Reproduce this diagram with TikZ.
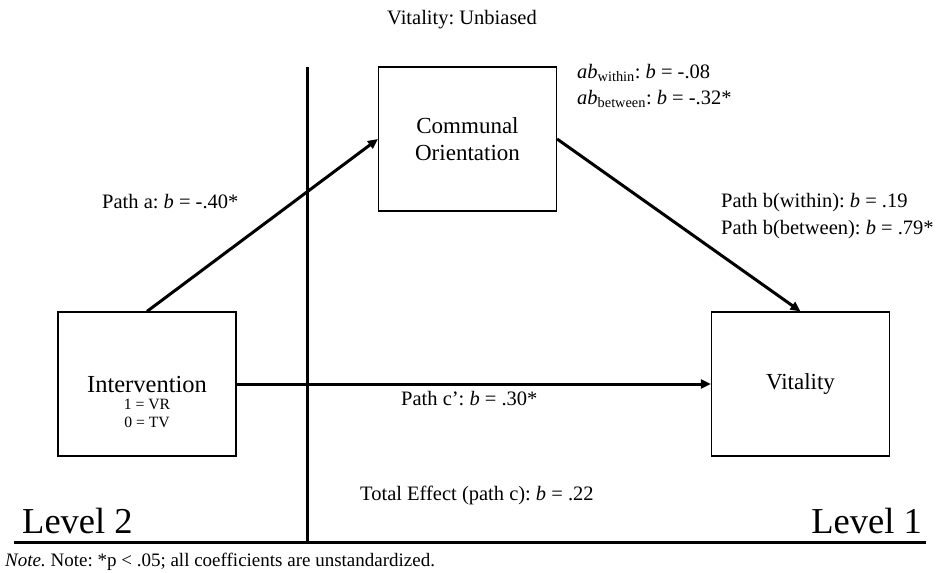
\documentclass[tikz,border=0pt]{standalone}
\usepackage{fontspec}
\setmainfont{Liberation Serif}
\usetikzlibrary{arrows.meta}
\frenchspacing
\tikzset{
  box/.style={draw, line width=1.2pt, minimum width=178pt, minimum height=144pt, inner sep=0pt, align=center, font=\fontsize{23}{27}\selectfont},
  lbl/.style={anchor=base west, inner sep=0pt, font=\fontsize{20.5}{24}\selectfont},
  conn/.style={line width=3pt, -{Triangle[length=10pt,width=9pt]}},
  rule/.style={line width=3pt},
  lvl/.style={inner sep=0pt, font=\fontsize{36.5}{40}\selectfont}
}
\begin{document}
\begin{tikzpicture}[x=1pt,y=-1pt]
\useasboundingbox (0,0) rectangle (938,573);
% rules
\coordinate (vt) at (307,67);
\coordinate (vb) at (307,542);
\coordinate (hl) at (14,542);
\coordinate (hr) at (926,542);
\draw[rule] (vt) -- (vb);
\draw[rule] (hl) -- (hr);
% boxes
\node[box] (comm) at (467.5,139) {Communal\\Orientation};
\node[box] (int) at (147,384) {};
\node[anchor=base, inner sep=0pt, font=\fontsize{24.5}{27}\selectfont] (intA) at (147,392) {Intervention};
\node[anchor=base, inner sep=0pt, font=\fontsize{15.7}{18}\selectfont] (intB) at (147,409) {1 = VR};
\node[anchor=base, inner sep=0pt, font=\fontsize{15.7}{18}\selectfont] (intC) at (147,427) {0 = TV};
\node[box] (vit) at (800.5,384) {Vitality};
% connectors
\draw[conn] (int.north) -- (comm.west);
\draw[conn] (comm.east) -- (vit.north);
\draw[conn] (int.east) -- (vit.west);
% labels
\node[anchor=base, inner sep=0pt, font=\fontsize{20.5}{24}\selectfont] (title) at (462,24) {Vitality: Unbiased};
\node[lbl] (abw) at (577,78) {\textit{ab}\textsubscript{within}: \textit{b} = -.08};
\node[lbl] (abb) at (577,104) {\textit{ab}\textsubscript{between}: \textit{b} = -.32*};
\node[lbl] (pa) at (102,208) {Path a: \textit{b} = -.40*};
\node[lbl] (pbw) at (721,207) {Path b(within): \textit{b} = .19};
\node[lbl] (pbb) at (721,234) {Path b(between): \textit{b} = .79*};
\node[lbl] (pc) at (401,405) {Path c’: \textit{b} = .30*};
\node[lbl] (tot) at (360,500) {Total Effect (path c): \textit{b} = .22};
\node[lvl, anchor=base west] (l2) at (22,533) {Level 2};
\node[lvl, anchor=base east] (l1) at (922,533) {Level 1};
\node[lbl, font=\fontsize{19}{22}\selectfont] (note) at (5,566) {\textit{Note.} Note: *p < .05; all coefficients are unstandardized.};
\end{tikzpicture}
\end{document}
